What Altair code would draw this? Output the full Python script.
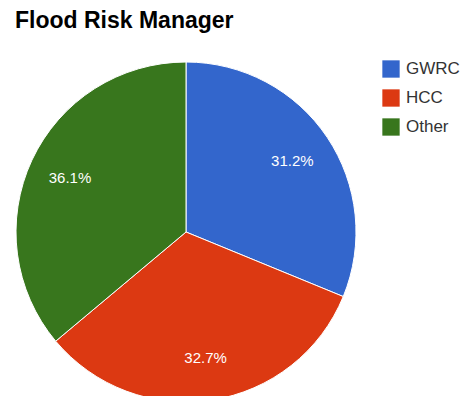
import altair as alt
import pandas as pd

title = "Flood Risk Manager"
categories = ["GWRC", "HCC", "Other"]
values = [31.2, 32.7, 36.1]
labels = ["31.2%", "32.7%", "36.1%"]
colors = ["#3366cc", "#dc3912", "#38761d"]

df = pd.DataFrame({
    "category": categories,
    "value": values,
    "label": labels,
    "idx": list(range(len(categories))),
})

FONT = "Liberation Sans"
CX, CY = 178, 224

base = alt.Chart(df).encode(
    theta=alt.Theta("value:Q", stack=True),
    order=alt.Order("idx:Q"),
)

arcs = base.mark_arc(radius=170, stroke="white", strokeWidth=1).encode(
    x=alt.value(CX),
    y=alt.value(CY),
    color=alt.Color(
        "category:N",
        scale=alt.Scale(domain=categories, range=colors),
        legend=alt.Legend(
            title=None,
            orient="none",
            legendX=374,
            legendY=52,
            padding=0,
            symbolType="square",
            symbolSize=300,
            symbolStrokeWidth=0,
            labelFontSize=17,
            labelFont=FONT,
            labelColor="#333333",
            labelOffset=6,
            rowPadding=11,
        ),
    ),
)

texts = base.mark_text(radius=128, fontSize=15, font=FONT, color="white").encode(
    x=alt.value(CX),
    y=alt.value(CY),
    text="label:N",
)

title_mark = alt.Chart(pd.DataFrame({"t": [title]})).mark_text(
    align="left", baseline="alphabetic", fontSize=23, fontWeight="bold",
    font=FONT, color="#000000",
).encode(x=alt.value(7), y=alt.value(20), text="t:N")

chart = alt.layer(arcs, texts, title_mark).properties(
    width=453, height=388,
    autosize=alt.AutoSizeParams(type="none"),
    padding=0,
).configure(font=FONT).configure_view(strokeWidth=0, stroke=None)

chart.save("out.html", embed_options={"renderer": "svg", "actions": False})
